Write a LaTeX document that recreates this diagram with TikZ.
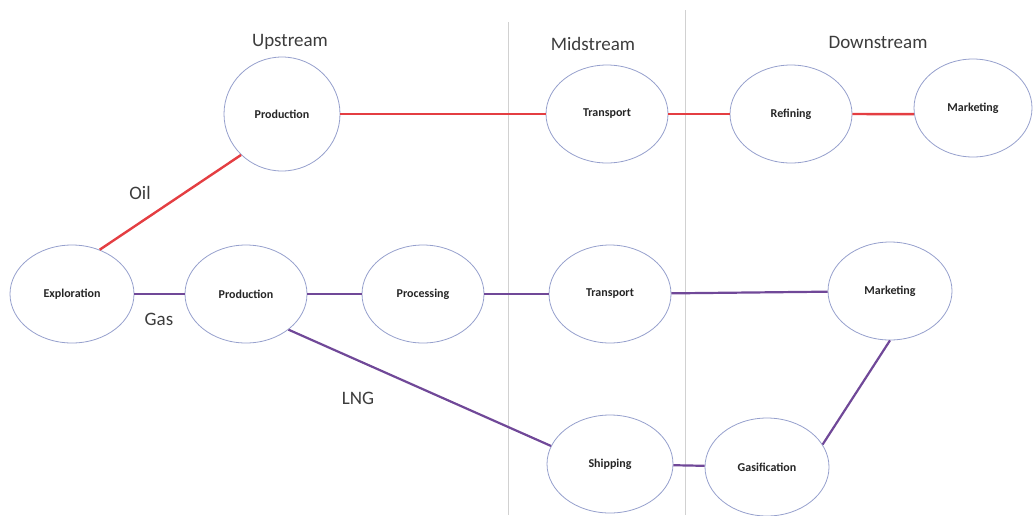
\documentclass[tikz,border=0pt]{standalone}
\usepackage{fontspec}
\setmainfont{Carlito}
\usetikzlibrary{shapes.geometric}
\definecolor{oilred}{RGB}{228,62,66}
\definecolor{gaspurple}{RGB}{112,72,152}
\definecolor{rim}{RGB}{150,160,205}
\definecolor{labelgrey}{RGB}{60,60,60}
\begin{document}
\begin{tikzpicture}[x=1pt,y=-1pt,
  stage/.style={ellipse,draw=rim,line width=0.8pt,fill=white,
    minimum width=122pt,minimum height=98pt,inner sep=0pt,
    font=\fontsize{12}{14}\selectfont\bfseries,text=black!85},
  oil/.style={draw=oilred,line width=2.4pt},
  gas/.style={draw=gaspurple,line width=2.2pt},
  divider/.style={draw=black!18,line width=0.7pt},
  heading/.style={font=\fontsize{19}{22}\selectfont,text=labelgrey}]
\useasboundingbox (0,0) rectangle (1035,515);

% segment dividers
\draw[divider] (508,22) -- (508,515);
\draw[divider] (685,10) -- (685,515);

% headings
\node[heading] (hup) at (290,42) {Upstream};
\node[heading] (hmid) at (593,44) {Midstream};
\node[heading] (hdown) at (878,42) {Downstream};

% oil chain
\node[stage,minimum width=116pt,minimum height=114pt] (oprod) at (282,114) {Production};
\node[stage] (otrans) at (607,114) {Transport};
\node[stage] (refine) at (791,114) {Refining};
\node[stage,minimum width=118pt] (omark) at (973,108) {Marketing};

% gas chain
\node[stage,minimum width=124pt] (explore) at (72,294) {Exploration};
\node[stage] (gprod) at (246,294) {Production};
\node[stage] (process) at (423,294) {Processing};
\node[stage] (gtrans) at (610,294) {Transport};
\node[stage,minimum width=124pt] (gmark) at (890,291) {Marketing};
\node[stage,minimum width=126pt] (ship) at (610,464) {Shipping};
\node[stage,minimum width=124pt] (gasify) at (767,467) {Gasification};

% branch labels
\node[heading] (loil) at (140,193) {Oil};
\node[heading] (lgas) at (159,319) {Gas};
\node[heading] (llng) at (358,398) {LNG};

% connectors
\draw[oil] (explore.58) -- (oprod.-135);
\draw[oil] (oprod) -- (otrans);
\draw[oil] (otrans) -- (refine);
\draw[oil] (refine.east) -- (omark.186);
\draw[gas] (explore) -- (gprod);
\draw[gas] (gprod) -- (process);
\draw[gas] (process) -- (gtrans);
\draw[gas] (gtrans) -- (gmark);
\draw[gas] (gprod.-40) -- (ship.163);
\draw[gas] (ship) -- (gasify);
\draw[gas] (gasify.22) -- (gmark.south);
\end{tikzpicture}
\end{document}
